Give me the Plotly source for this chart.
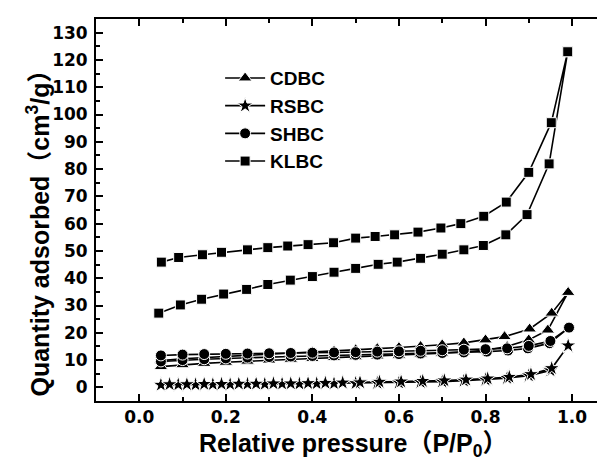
import plotly.graph_objects as go

# ---- data ----
klbc_ads_x = [0.045, 0.095, 0.144, 0.195, 0.248, 0.297, 0.349, 0.400, 0.450, 0.500,
              0.552, 0.596, 0.650, 0.700, 0.750, 0.795, 0.847, 0.896, 0.947, 0.989]
klbc_ads_y = [27.2, 30.2, 32.3, 34.2, 35.9, 37.7, 39.3, 40.6, 42.2, 43.6,
              45.1, 45.9, 47.3, 48.8, 50.4, 52.0, 55.9, 63.3, 81.9, 123.0]
klbc_des_x = [0.990, 0.952, 0.900, 0.848, 0.796, 0.743, 0.697, 0.644, 0.590, 0.545,
              0.500, 0.449, 0.390, 0.343, 0.297, 0.250, 0.190, 0.146, 0.091, 0.051]
klbc_des_y = [123.0, 97.0, 78.8, 67.9, 62.7, 60.0, 58.4, 56.9, 55.9, 55.3,
              54.7, 53.0, 52.3, 51.8, 51.2, 50.4, 49.5, 48.6, 47.6, 45.9]

cdbc_ads_x = [0.050, 0.100, 0.150, 0.200, 0.250, 0.300, 0.350, 0.400, 0.450, 0.500,
              0.550, 0.600, 0.650, 0.700, 0.750, 0.800, 0.850, 0.900, 0.944, 0.991]
cdbc_ads_y = [7.6, 8.3, 8.8, 9.2, 9.6, 10.0, 10.3, 10.6, 10.9, 11.2,
              11.5, 11.8, 12.1, 12.5, 13.0, 13.6, 15.0, 17.4, 21.0, 34.8]
cdbc_des_x = [0.991, 0.953, 0.902, 0.844, 0.800, 0.750, 0.700, 0.650, 0.600, 0.550,
              0.500, 0.450, 0.400, 0.350, 0.300, 0.250, 0.200, 0.150, 0.100, 0.050]
cdbc_des_y = [34.8, 27.2, 21.4, 18.6, 17.4, 16.3, 15.6, 15.0, 14.6, 14.2,
              13.8, 13.4, 13.0, 12.6, 12.2, 11.8, 11.4, 11.0, 10.5, 9.8]

shbc_ads_x = [0.050, 0.100, 0.150, 0.200, 0.250, 0.300, 0.350, 0.400, 0.450, 0.500,
              0.550, 0.600, 0.650, 0.700, 0.750, 0.803, 0.852, 0.898, 0.948, 0.993]
shbc_ads_y = [9.5, 10.0, 10.3, 10.6, 10.9, 11.1, 11.3, 11.5, 11.7, 11.9,
              12.0, 12.2, 12.4, 12.6, 12.8, 13.1, 13.5, 14.3, 16.2, 21.9]
shbc_des_x = [0.993, 0.950, 0.900, 0.850, 0.800, 0.750, 0.700, 0.650, 0.600, 0.550,
              0.500, 0.450, 0.400, 0.350, 0.300, 0.250, 0.200, 0.150, 0.100, 0.050]
shbc_des_y = [21.9, 17.0, 15.2, 14.3, 14.0, 13.8, 13.6, 13.4, 13.2, 13.1,
              12.9, 12.8, 12.7, 12.6, 12.5, 12.4, 12.3, 12.2, 12.0, 11.7]

rsbc_ads_x = [0.050, 0.090, 0.130, 0.170, 0.210, 0.250, 0.290, 0.330, 0.370, 0.410,
              0.450, 0.500, 0.550, 0.600, 0.650, 0.700, 0.750, 0.800, 0.850, 0.900,
              0.950, 0.991]
rsbc_ads_y = [0.9, 1.0, 1.0, 1.1, 1.1, 1.2, 1.2, 1.3, 1.3, 1.4,
              1.4, 1.5, 1.6, 1.7, 1.9, 2.1, 2.4, 2.8, 3.4, 4.3,
              6.2, 15.3]
rsbc_des_x = [0.991, 0.953, 0.905, 0.855, 0.805, 0.755, 0.705, 0.655, 0.605, 0.555,
              0.510, 0.470, 0.430, 0.390, 0.350, 0.310, 0.270, 0.230, 0.190, 0.150,
              0.110, 0.070]
rsbc_des_y = [15.3, 7.0, 4.8, 3.8, 3.2, 2.8, 2.5, 2.3, 2.1, 2.0,
              1.8, 1.7, 1.6, 1.5, 1.4, 1.4, 1.3, 1.3, 1.2, 1.2,
              1.1, 1.1]

x_ticks = [0.0, 0.2, 0.4, 0.6, 0.8, 1.0]
x_tick_labels = ["0.0", "0.2", "0.4", "0.6", "0.8", "1.0"]
y_ticks = list(range(0, 131, 10))

series = [
    ("CDBC", cdbc_ads_x + cdbc_des_x, cdbc_ads_y + cdbc_des_y, "triangle-up", 12),
    ("RSBC", rsbc_ads_x + rsbc_des_x, rsbc_ads_y + rsbc_des_y, "star", 12),
    ("SHBC", shbc_ads_x + shbc_des_x, shbc_ads_y + shbc_des_y, "circle", 11),
    ("KLBC", klbc_ads_x + klbc_des_x, klbc_ads_y + klbc_des_y, "square", 10),
]

FONT = "Liberation Sans, Arial, Noto Sans CJK SC, sans-serif"
TICKFONT = "DejaVu Sans, Liberation Sans, sans-serif"

fig = go.Figure()
for name, xs, ys, sym, sz in series:
    fig.add_trace(go.Scatter(
        x=xs, y=ys, name=name, mode="lines+markers",
        line=dict(color="black", width=1.6),
        marker=dict(symbol=sym, size=sz, color="black",
                    line=dict(color="white", width=1.0)),
    ))

fig.update_layout(
    width=605, height=463,
    margin=dict(l=88, r=0, t=11, b=70),
    paper_bgcolor="white", plot_bgcolor="white",
    font=dict(family=FONT, color="black", size=17, weight="bold"),
    showlegend=True,
    legend=dict(x=0.241, y=0.895, xanchor="left", yanchor="top",
                bgcolor="rgba(0,0,0,0)", itemwidth=40, tracegroupgap=0,
                font=dict(size=19, family=FONT, weight="bold")),
    annotations=[
        dict(text="Quantity adsorbed（cm<sup>3</sup>/g）", textangle=-90,
             xref="paper", yref="paper", x=-0.112, y=0.455,
             xanchor="center", yanchor="middle", showarrow=False,
             font=dict(size=25, family=FONT, weight="bold", color="black")),
        dict(text="Relative pressure（P/P<sub>0</sub>）",
             xref="paper", yref="paper", x=0.5, y=-0.115,
             xanchor="center", yanchor="middle", showarrow=False,
             font=dict(size=25, family=FONT, weight="bold", color="black")),
    ],
)

axis_common = dict(
    showline=True, linecolor="black", linewidth=1.8, mirror="allticks",
    ticks="inside", ticklen=7, tickwidth=1.5, tickcolor="black",
    showgrid=False, zeroline=False,
    tickfont=dict(size=17, family=TICKFONT, weight="bold"),
)

fig.update_xaxes(
    range=[-0.1, 1.09], tickvals=x_ticks, ticktext=x_tick_labels,
    minor=dict(ticks="inside", ticklen=4, tickwidth=1.5, dtick=0.1, tick0=0, tickcolor="black"),
    **axis_common,
)
fig.update_yaxes(
    range=[-5, 135], tickvals=y_ticks, ticklabelstandoff=3,
    minor=dict(ticks="inside", ticklen=4, tickwidth=1.5, dtick=5, tick0=0, tickcolor="black"),
    **axis_common,
)

fig.write_html("out.html")
